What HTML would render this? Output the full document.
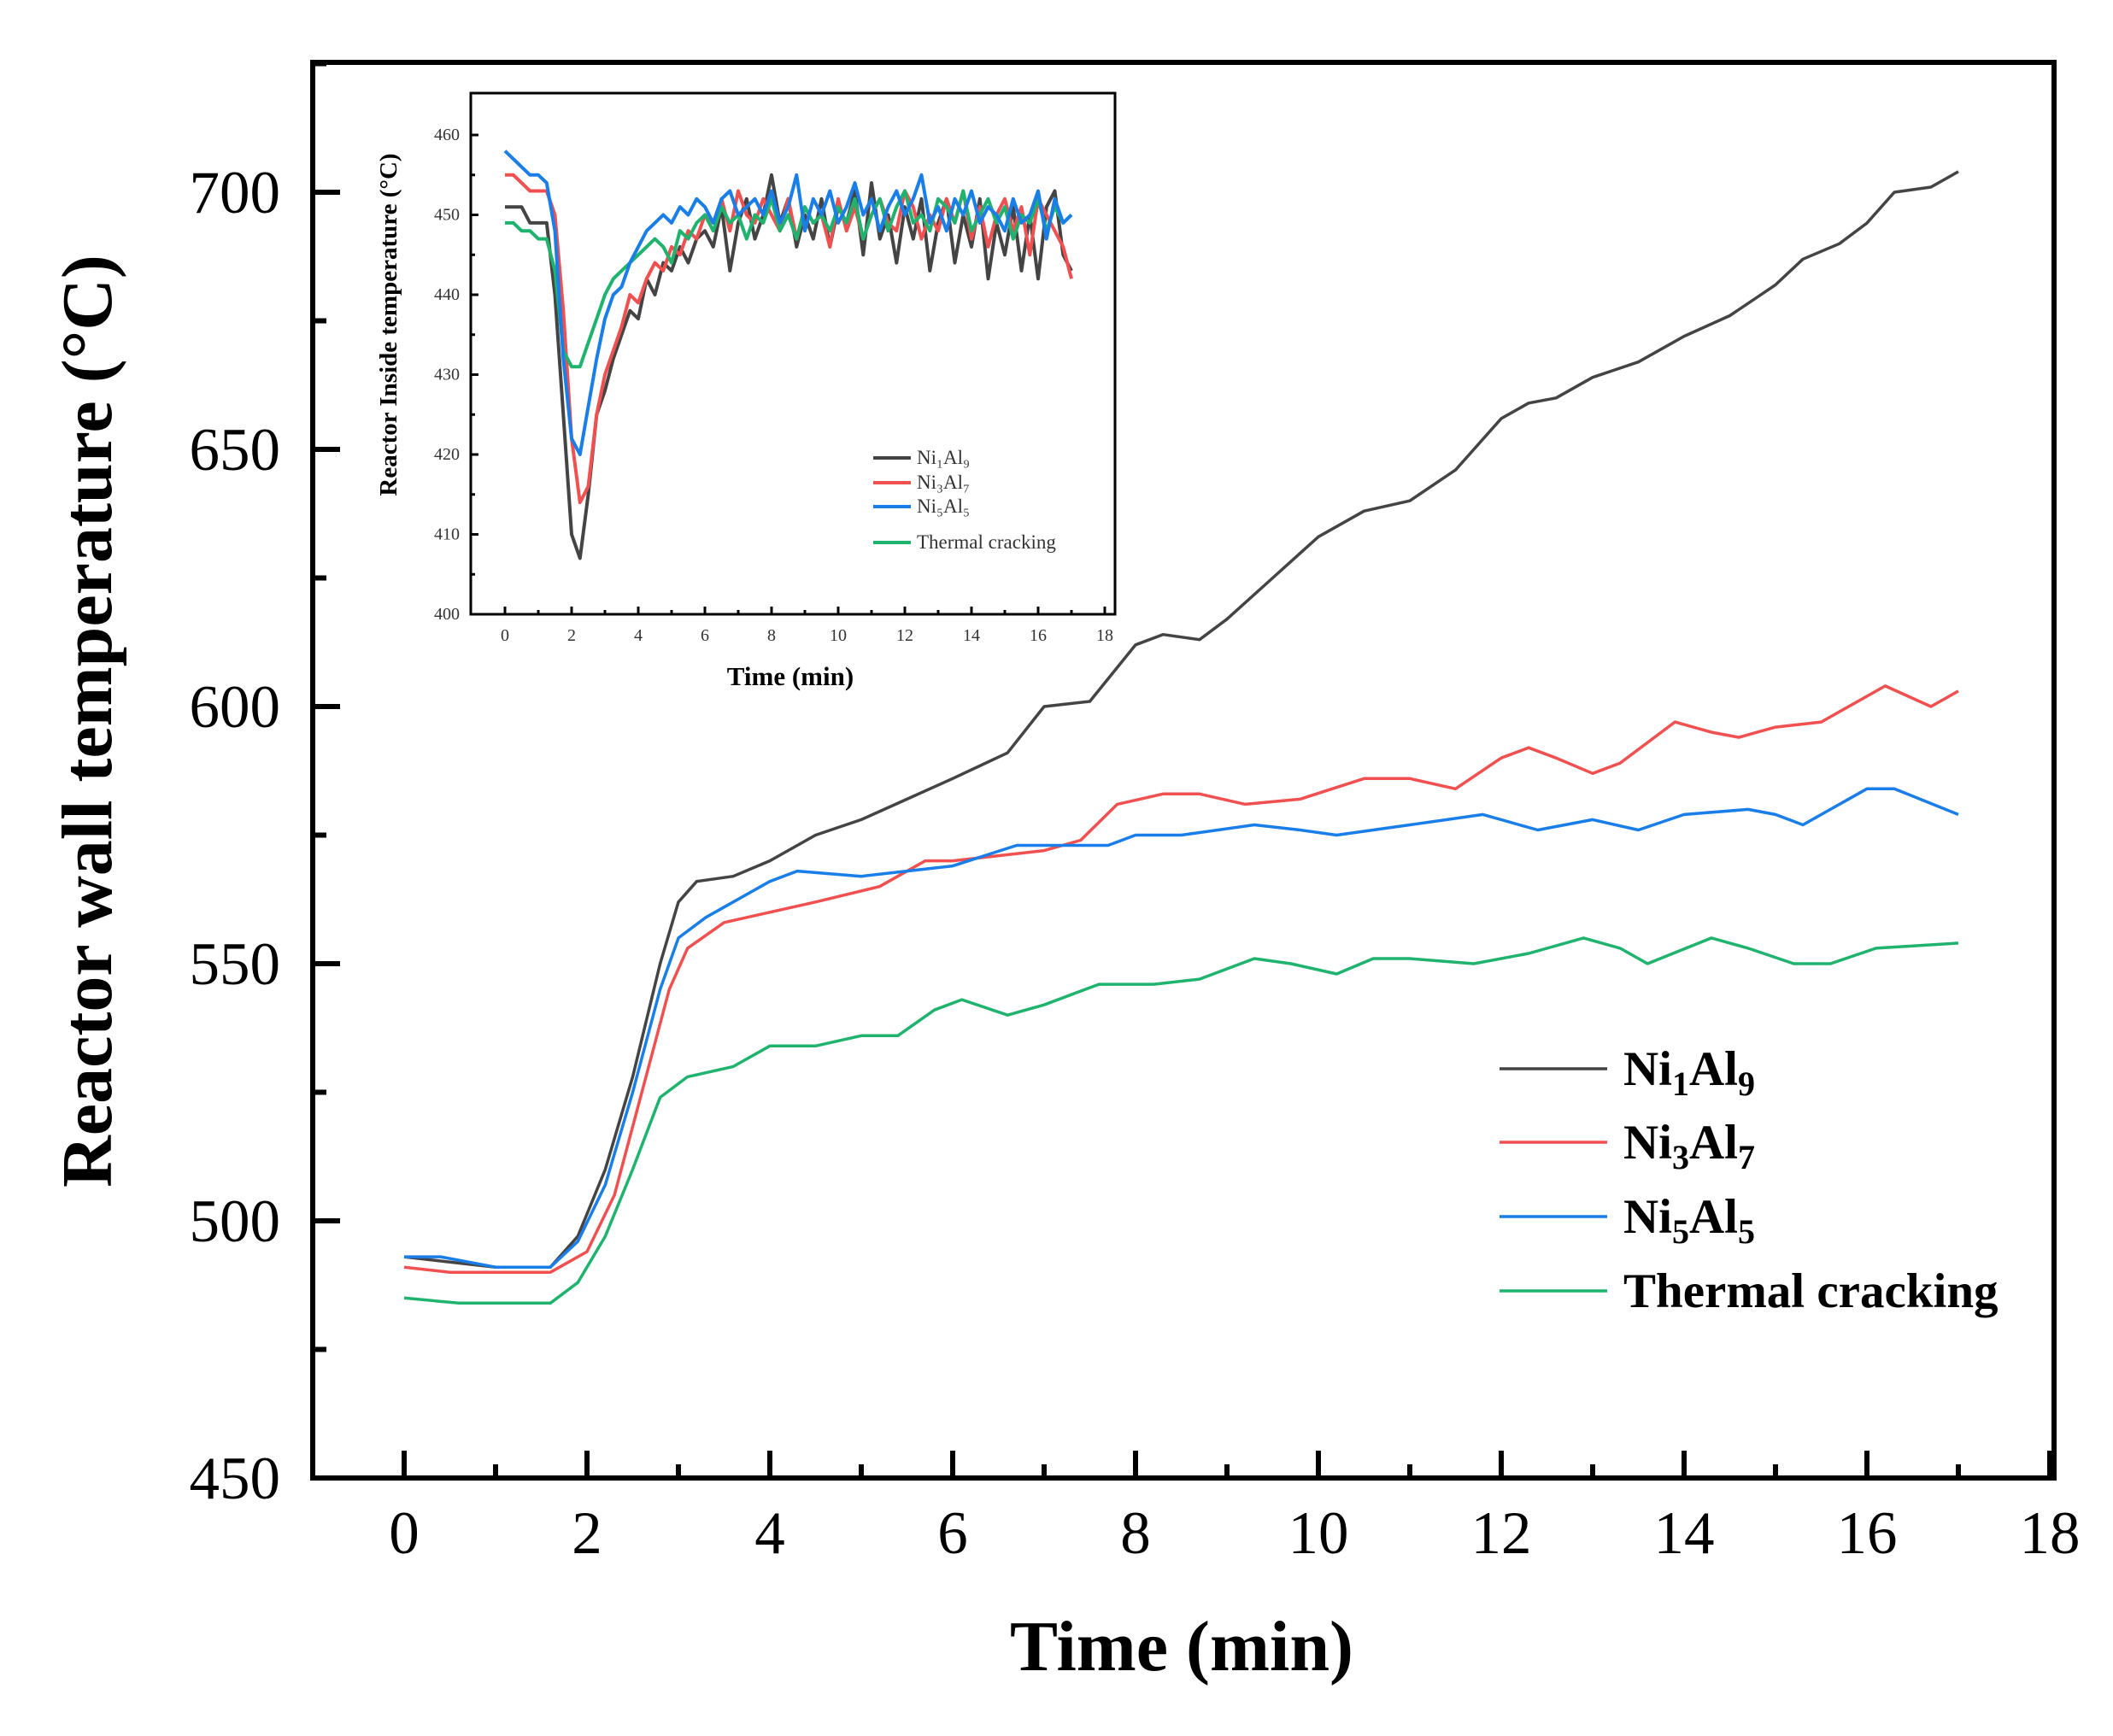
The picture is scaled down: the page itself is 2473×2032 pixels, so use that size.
<!DOCTYPE html>
<html><head><meta charset="utf-8">
<style>
html,body{margin:0;padding:0;background:#fff;}
svg{display:block;font-family:"Liberation Serif",serif;}
</style></head>
<body>
<svg id="chart" width="2473" height="2032" viewBox="0 0 2473 2032" xmlns="http://www.w3.org/2000/svg">
<g id="main"></g>
<g id="inset"></g>
</svg>
<script>
// ---- main chart data ----
const seriesNames = ["Ni1Al9","Ni3Al7","Ni5Al5","Thermal cracking"];
const seriesColors = ["#444444","#f05050","#1a7ee8","#1fb36e"];
const ni1Time = [0,0.5,1,1.6,1.9,2.2,2.5,2.8,3.0,3.2,3.6,4,4.5,5,5.5,6,6.6,7.0,7.5,8,8.3,8.7,9.0,9.5,10,10.5,11,11.5,12,12.3,12.6,13,13.5,14,14.5,15,15.3,15.7,16,16.3,16.7,17];
const ni1Temp = [493,492,491,491,497,510,528,550,562,566,567,570,575,578,582,586,591,600,601,612,614,613,617,625,633,638,640,646,656,659,660,664,667,672,676,682,687,690,694,700,701,704];
const ni3Time = [0,0.5,1.6,2.0,2.3,2.6,2.9,3.1,3.5,4,4.5,5.2,5.7,6,6.5,7,7.4,7.8,8.3,8.7,9.2,9.8,10.5,11,11.5,12,12.3,12.6,13,13.3,13.9,14.3,14.6,15,15.5,16.2,16.7,17];
const ni3Temp = [491,490,490,494,505,525,545,553,558,560,562,565,570,570,571,572,574,581,583,583,581,582,586,586,584,590,592,590,587,589,597,595,594,596,597,604,600,603];
const ni5Time = [0,0.4,1,1.6,1.9,2.2,2.5,2.8,3.0,3.3,4,4.3,5,5.5,6,6.7,7.3,7.7,8,8.5,9.3,9.8,10.2,11,11.8,12.2,12.4,13,13.5,14,14.7,15,15.3,15.6,16,16.3,17];
const ni5Temp = [493,493,491,491,496,507,525,545,555,559,566,568,567,568,569,573,573,573,575,575,577,576,575,577,579,577,576,578,576,579,580,579,577,580,584,584,579];
const tcTime = [0,0.6,1.6,1.9,2.2,2.5,2.8,3.1,3.6,4,4.5,5,5.4,5.8,6.1,6.6,7,7.6,8.2,8.7,9.3,9.7,10.2,10.6,11,11.7,12.3,12.9,13.3,13.6,14.3,14.7,15.2,15.6,16.1,17];
const tcTemp = [485,484,484,488,497,510,524,528,530,534,534,536,536,541,543,540,542,546,546,547,551,550,548,551,551,550,552,555,553,550,555,553,550,550,553,554];
const xTicks = [0,2,4,6,8,10,12,14,16,18];
const yTicks = [450,500,550,600,650,700];
// ---- inset data (sampled every 0.25 min) ----
const insetStep = 0.25;
const insetNi1 = [451,451,451,449,449,449,440,425,410,407,415,425,428,432,435,438,437,442,440,444,443,446,444,447,448,446,451,443,449,452,447,450,455,449,452,446,450,447,452,446,451,449,453,445,454,447,450,444,451,447,452,443,449,452,444,450,446,452,442,449,445,451,443,450,442,451,453,445,443];
const insetNi3 = [455,455,454,453,453,453,450,438,422,414,416,425,430,433,436,440,439,442,444,443,446,445,448,447,450,449,452,448,453,450,449,452,450,448,452,447,451,449,450,446,452,448,451,447,450,452,449,448,453,451,447,450,448,452,449,453,447,451,446,450,452,448,451,445,452,450,448,446,442];
const insetNi5 = [458,457,456,455,455,454,448,432,422,420,426,432,437,440,441,444,446,448,449,450,449,451,450,452,451,449,452,453,450,451,452,450,453,449,451,455,448,452,450,453,449,451,454,450,452,448,451,453,450,452,455,449,451,448,452,450,453,449,451,450,448,452,449,450,453,447,452,449,450];
const insetTc = [449,449,448,448,447,447,443,433,431,431,434,437,440,442,443,444,445,446,447,446,444,448,447,449,450,448,451,449,450,447,450,449,452,448,450,447,451,449,450,448,451,449,452,447,450,452,448,451,453,449,450,448,452,451,449,453,448,450,452,449,451,447,450,449,452,448,451,449,450];
const insetXTicks = [0,2,4,6,8,10,12,14,16,18];
const insetYTicks = [400,410,420,430,440,450,460];

const NS = "http://www.w3.org/2000/svg";
function mk(tag, attrs, parent){const e=document.createElementNS(NS,tag);for(const k in attrs)e.setAttribute(k,attrs[k]);parent.appendChild(e);return e;}

// main axes
const M = {l:366,r:2404,t:73,b:1730};
const mx = v => 473 + v*107.0;
const my = v => 1730 - (v-450)*6.02;
const main = document.getElementById('main');
const frame = mk('rect',{x:M.l,y:M.t,width:M.r-M.l,height:M.b-M.t,fill:'none',stroke:'#000','stroke-width':6},main);


for(let i=0;i<xTicks.length;i++){
  const v=xTicks[i];
  const t=mk('line',{x1:mx(v),x2:mx(v),y1:M.b,y2:M.b-32,stroke:'#000','stroke-width':6},main);
  
  
  if(i<xTicks.length-1){
    const m=mk('line',{x1:mx(v+1),x2:mx(v+1),y1:M.b,y2:M.b-16,stroke:'#000','stroke-width':6},main);
    
    
  }
  const lb=mk('text',{x:mx(v),y:1818,'font-size':71,'text-anchor':'middle'},main);
  lb.textContent=v;
  
  
}
for(let i=0;i<yTicks.length;i++){
  const v=yTicks[i];
  const t=mk('line',{x1:M.l,x2:M.l+32,y1:my(v),y2:my(v),stroke:'#000','stroke-width':6},main);
  
  
  const m=mk('line',{x1:M.l,x2:M.l+16,y1:my(v+25),y2:my(v+25),stroke:'#000','stroke-width':6},main);
  
  
  const lb=mk('text',{x:328,y:my(v)+24,'font-size':71,'text-anchor':'end'},main);
  lb.textContent=v;
  
  
}
const xt=mk('text',{x:1383,y:1955,'font-size':84,'font-weight':'bold','text-anchor':'middle'},main);
xt.textContent='Time (min)';


const yt=mk('text',{x:0,y:0,'font-size':84,'font-weight':'bold','text-anchor':'middle',transform:'translate(130,844) rotate(-90)'},main);
yt.textContent='Reactor wall temperature (°C)';



const mainSeries=[[ni1Time,ni1Temp],[ni3Time,ni3Temp],[ni5Time,ni5Temp],[tcTime,tcTemp]];
const lineNames=['line-ni1al9','line-ni3al7','line-ni5al5','line-thermal-cracking'];
for(let s=0;s<mainSeries.length;s++){
  const [xs,ys]=mainSeries[s];
  let d='';
  for(let i=0;i<xs.length;i++) d+=(i?'L':'M')+mx(xs[i]).toFixed(1)+','+my(ys[i]).toFixed(1);
  const p=mk('path',{d:d,fill:'none',stroke:seriesColors[s],'stroke-width':3.5,'stroke-linejoin':'round'},main);
  
  
}
// main legend
const legY=[1251,1337,1424,1511];
const legLabels=[['Ni','1','Al','9'],['Ni','3','Al','7'],['Ni','5','Al','5'],['Thermal cracking']];
for(let s=0;s<4;s++){
  const g=mk('g',{},main);
  
  
  mk('line',{x1:1755,x2:1881,y1:legY[s],y2:legY[s],stroke:seriesColors[s],'stroke-width':3.5},g);
  const tx=mk('text',{x:1900,y:legY[s]+19,'font-size':57,'font-weight':'bold'},g);
  const parts=legLabels[s];
  if(parts.length===1){tx.textContent=parts[0];}
  else{
    for(let k=0;k<4;k++){
      const ts=mk('tspan',{},tx);
      ts.textContent=parts[k];
      if(k%2===1){ts.setAttribute('font-size','40');ts.setAttribute('dy','12');}
      else if(k===2){ts.setAttribute('dy','-12');}
    }
  }
}

// inset
const I = {l:551,r:1305,t:109,b:719};
const ix = v => 591 + v*39.0;
const iy = v => 719 - (v-400)*9.35;
const inset = document.getElementById('inset');
const ifr=mk('rect',{x:I.l,y:I.t,width:I.r-I.l,height:I.b-I.t,fill:'none',stroke:'#000','stroke-width':3},inset);


for(let i=0;i<insetXTicks.length;i++){
  const v=insetXTicks[i];
  const t=mk('line',{x1:ix(v),x2:ix(v),y1:I.b,y2:I.b-9,stroke:'#000','stroke-width':3},inset);
  
  
  if(i<insetXTicks.length-1){
    const m=mk('line',{x1:ix(v+1),x2:ix(v+1),y1:I.b,y2:I.b-5,stroke:'#000','stroke-width':3},inset);
    
    
  }
  const lb=mk('text',{x:ix(v),y:750,'font-size':20,'text-anchor':'middle',fill:'#333'},inset);
  lb.textContent=v;
  
  
}
for(let i=0;i<insetYTicks.length;i++){
  const v=insetYTicks[i];
  const t=mk('line',{x1:I.l,x2:I.l+9,y1:iy(v),y2:iy(v),stroke:'#000','stroke-width':3},inset);
  
  
  if(i<insetYTicks.length-1){
    const m=mk('line',{x1:I.l,x2:I.l+5,y1:iy(v+5),y2:iy(v+5),stroke:'#000','stroke-width':3},inset);
    
    
  }
  const lb=mk('text',{x:538,y:iy(v)+6,'font-size':20,'text-anchor':'end',fill:'#333'},inset);
  lb.textContent=v;
  
  
}
const ixt=mk('text',{x:925,y:802,'font-size':31,'font-weight':'bold','text-anchor':'middle'},inset);
ixt.textContent='Time (min)';


const iyt=mk('text',{x:0,y:0,'font-size':29,'font-weight':'bold','text-anchor':'middle',transform:'translate(464,380) rotate(-90)'},inset);
iyt.textContent='Reactor Inside temperature (°C)';



const insetSeries=[insetNi1,insetNi3,insetNi5,insetTc];
const insetOrder=[0,1,3,2];
for(const s of insetOrder){
  const ys=insetSeries[s];
  let d='';
  for(let i=0;i<ys.length;i++) d+=(i?'L':'M')+ix(i*insetStep).toFixed(1)+','+iy(ys[i]).toFixed(1);
  const p=mk('path',{d:d,fill:'none',stroke:seriesColors[s],'stroke-width':4,'stroke-linejoin':'round'},inset);
  
  
}
const iLegY=[536,565,593,635];
const iLegLabels=['Ni\u2081Al\u2089','Ni\u2083Al\u2087','Ni\u2085Al\u2085','Thermal cracking'];
for(let s=0;s<4;s++){
  const g=mk('g',{},inset);
  
  
  mk('line',{x1:1022,x2:1066,y1:iLegY[s],y2:iLegY[s],stroke:seriesColors[s],'stroke-width':4},g);
  const tx=mk('text',{x:1073,y:iLegY[s]+7,'font-size':23,fill:'#333'},g);
  tx.textContent=iLegLabels[s];
}
</script>
</body></html>
